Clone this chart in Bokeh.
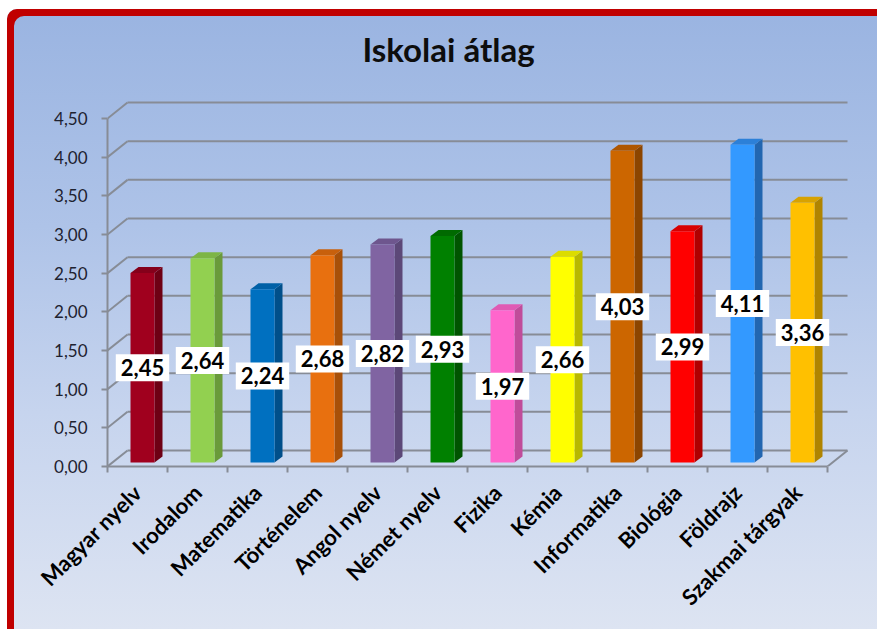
import math
from bokeh.plotting import figure
from bokeh.models import Range1d, FixedTicker, LinearAxis
from bokeh.core.properties import value
from bokeh.embed import file_html
from bokeh.resources import INLINE

# ---------------- data ----------------
categories = ["Magyar nyelv", "Irodalom", "Matematika", "Történelem", "Angol nyelv",
              "Német nyelv", "Fizika", "Kémia", "Informatika", "Biológia", "Földrajz",
              "Szakmai tárgyak"]
values = [2.45, 2.64, 2.24, 2.68, 2.82, 2.93, 1.97, 2.66, 4.03, 2.99, 4.11, 3.36]
value_labels = ["2,45", "2,64", "2,24", "2,68", "2,82", "2,93", "1,97", "2,66",
                "4,03", "2,99", "4,11", "3,36"]
front_colors = ["#A0001E", "#92D050", "#0070C0", "#E8700F", "#8064A2", "#008000",
                "#FF66CC", "#FFFF00", "#CC6600", "#FF0000", "#3399FF", "#FFC000"]
side_colors = ["#6E0014", "#6A9A3A", "#004F8A", "#A85008", "#5C4878", "#005400",
               "#C04C9A", "#B8B800", "#8C4500", "#B00000", "#2266B0", "#B08400"]
top_colors = ["#85001A", "#7DB545", "#0060A6", "#C8600C", "#6E568E", "#006A00",
              "#E05AB4", "#DCDC00", "#AE5600", "#D80000", "#2C80D8", "#D8A200"]
y_ticks = [0.0, 0.5, 1.0, 1.5, 2.0, 2.5, 3.0, 3.5, 4.0, 4.5]
y_tick_labels = ["0,00", "0,50", "1,00", "1,50", "2,00", "2,50", "3,00", "3,50",
                 "4,00", "4,50"]
title_text = "Iskolai átlag"

# ---------------- geometry (styling) ----------------
PX_X = 60.0          # pixels per category
PX_Y = 77.33         # pixels per unit value
CANVAS_W = 870
CANVAS_H = 620
BORDER_L = 100
BORDER_B = 163
FRAME_W = CANVAS_W - BORDER_L
FRAME_H = CANVAS_H - BORDER_B
n = len(categories)
DEPTH_X = 20 / PX_X          # 3D wall depth in x units
DEPTH_Y = 16 / PX_Y          # 3D wall depth in y units
BAR_W = 24 / PX_X
BAR_DX = 8 / PX_X
BAR_DY = 6 / PX_Y
OFF_X = 0.25 * DEPTH_X
OFF_Y = 0.25 * DEPTH_Y
GRID_COLOR = "#878C96"

p = figure(width=CANVAS_W, height=CANVAS_H,
           x_range=Range1d(0, FRAME_W / PX_X), y_range=Range1d(0, FRAME_H / PX_Y),
           output_backend="svg", toolbar_location=None,
           x_axis_type=None, y_axis_type=None,
           min_border_left=BORDER_L, min_border_right=0, min_border_top=0,
           min_border_bottom=BORDER_B)
p.background_fill_color = None
p.border_fill_color = None
p.outline_line_color = None
p.xgrid.visible = False
p.ygrid.visible = False
p.styles = {
    "background": "linear-gradient(to bottom, #9AB4E1 0%, #AEC3E8 35%, #C6D4EE 65%, #DDE4F2 100%)",
    "box-shadow": "inset 7px 7px 0 0 #C00000",
    "border-top-left-radius": "10px",
    "margin-left": "7px",
    "margin-top": "9px",
}

# y axis
yaxis = LinearAxis(ticker=FixedTicker(ticks=y_ticks),
                   major_label_overrides=dict(zip(y_ticks, y_tick_labels)),
                   bounds=(0, max(y_ticks)))
yaxis.axis_line_color = GRID_COLOR
yaxis.axis_line_width = 2
yaxis.major_tick_line_color = GRID_COLOR
yaxis.major_tick_line_width = 2
yaxis.major_tick_out = 6
yaxis.major_tick_in = 0
yaxis.minor_tick_line_color = None
yaxis.major_label_standoff = 14
yaxis.major_label_text_font = "Lato"
yaxis.major_label_text_font_size = "17px"
yaxis.major_label_text_color = "#1E2230"
p.add_layout(yaxis, "left")

# x axis
centers = [i + 0.5 for i in range(n)]
xaxis = LinearAxis(ticker=FixedTicker(ticks=centers, minor_ticks=list(range(n + 1))),
                   major_label_overrides=dict(zip(centers, categories)),
                   bounds=(0, n))
xaxis.axis_line_color = GRID_COLOR
xaxis.axis_line_width = 2
xaxis.major_tick_line_color = None
xaxis.minor_tick_line_color = GRID_COLOR
xaxis.minor_tick_line_width = 2
xaxis.minor_tick_out = 6
xaxis.minor_tick_in = 0
xaxis.major_label_orientation = math.pi / 4
xaxis.major_label_standoff = 16
xaxis.major_label_text_font = "Lato"
xaxis.major_label_text_font_style = "bold"
xaxis.major_label_text_font_size = "22px"
xaxis.major_label_text_color = "#000000"
p.add_layout(xaxis, "below")

# walls: back-wall gridlines, side diagonals, floor edge
bx0 = [DEPTH_X for _ in y_ticks]
bx1 = [n + DEPTH_X for _ in y_ticks]
by = [t + DEPTH_Y for t in y_ticks]
p.segment(x0=bx0, y0=by, x1=bx1, y1=by, line_color=GRID_COLOR, line_width=2)
p.segment(x0=[0 for _ in y_ticks], y0=y_ticks, x1=bx0, y1=by,
          line_color=GRID_COLOR, line_width=2)
p.segment(x0=[n], y0=[0], x1=[n + DEPTH_X], y1=[DEPTH_Y],
          line_color=GRID_COLOR, line_width=2)

# bars
lefts = [c - BAR_W / 2 + OFF_X for c in centers]
rights = [l + BAR_W for l in lefts]
bottoms = [OFF_Y for _ in values]
tops = [v + OFF_Y for v in values]
side_xs = [[r, r + BAR_DX, r + BAR_DX, r] for r in rights]
side_ys = [[b, b + BAR_DY, t + BAR_DY, t] for b, t in zip(bottoms, tops)]
top_xs = [[l, r, r + BAR_DX, l + BAR_DX] for l, r in zip(lefts, rights)]
top_ys = [[t, t, t + BAR_DY, t + BAR_DY] for t in tops]
p.patches(xs=side_xs, ys=side_ys, fill_color=side_colors, line_color=None)
p.patches(xs=top_xs, ys=top_ys, fill_color=top_colors, line_color=None)
p.quad(left=lefts, right=rights, bottom=bottoms, top=tops,
       fill_color=front_colors, line_color=None)

# value labels
label_x = [(l + r) / 2 for l, r in zip(lefts, rights)]
label_y = [v / 2 + OFF_Y for v in values]
p.text(x=label_x, y=label_y, text=value_labels,
       text_align="center", text_baseline="middle",
       text_font=value("Lato"), text_font_style="bold", text_font_size="22px",
       text_color="#000000", background_fill_color="#FFFFFF", padding=5)

# title (placed relative to the frame origin)
p.text(x=[(448 - 107) / PX_X], y=[(466 - 48) / PX_Y], text=[title_text],
       text_align="center", text_baseline="middle",
       text_font=value("Lato"), text_font_style="bold", text_font_size="33px",
       text_color="#0D0D0D")

open("out.html", "w").write(file_html(p, INLINE))
